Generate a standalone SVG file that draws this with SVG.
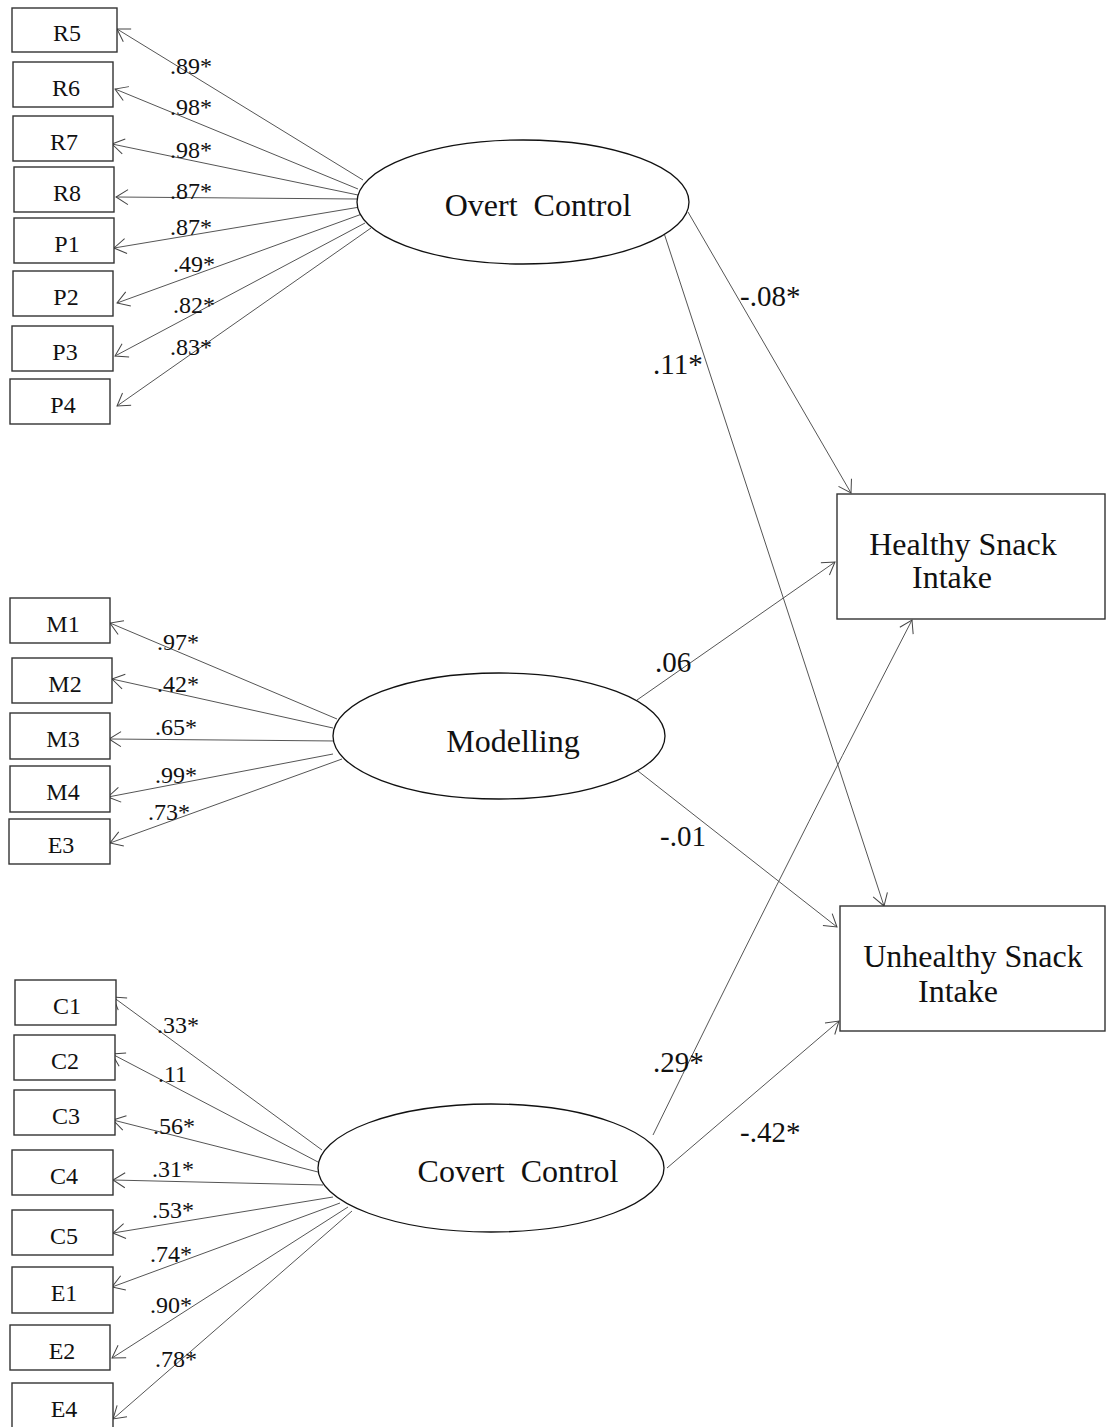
<svg xmlns="http://www.w3.org/2000/svg" width="1107" height="1427" viewBox="0 0 1107 1427">
<defs>
<marker id="arr" markerUnits="userSpaceOnUse" markerWidth="30" markerHeight="30" viewBox="-15 -15 30 30" refX="0" refY="0" orient="auto" overflow="visible">
<path d="M-12,-7.5 L0,0 L-12,7.5" fill="none" stroke="#444" stroke-width="1"/>
</marker>
<style>
.box{fill:#fff;stroke:#333;stroke-width:1.4}
.ell{fill:#fff;stroke:#111;stroke-width:1.3}
.ln{fill:none;stroke:#555;stroke-width:1;marker-end:url(#arr)}
.t{font-family:"Liberation Serif","Times New Roman",serif;fill:#111}
.s{font-size:24px;text-anchor:middle}
.w{font-size:24px}
.big{font-size:32px;text-anchor:middle}
.p{font-size:29px}
</style>
</defs>
<rect width="1107" height="1427" fill="#fff"/>

<g id="connectors">
<line class="ln" x1="363" y1="180" x2="117" y2="29"/>
<line class="ln" x1="358" y1="189" x2="115" y2="89"/>
<line class="ln" x1="358" y1="195" x2="112" y2="144"/>
<line class="ln" x1="358" y1="199" x2="116" y2="197"/>
<line class="ln" x1="360" y1="207" x2="114" y2="248"/>
<line class="ln" x1="362" y1="214" x2="117" y2="303"/>
<line class="ln" x1="365" y1="223" x2="115" y2="356"/>
<line class="ln" x1="371" y1="228" x2="117" y2="406"/>
<line class="ln" x1="337" y1="719" x2="110" y2="623"/>
<line class="ln" x1="333" y1="728" x2="112" y2="679"/>
<line class="ln" x1="337" y1="741" x2="109" y2="739"/>
<line class="ln" x1="333" y1="754" x2="108" y2="797"/>
<line class="ln" x1="342" y1="759" x2="110" y2="843"/>
<line class="ln" x1="322" y1="1150" x2="113" y2="997"/>
<line class="ln" x1="318" y1="1162" x2="112" y2="1054"/>
<line class="ln" x1="318" y1="1172" x2="113" y2="1120"/>
<line class="ln" x1="323" y1="1185" x2="113" y2="1180"/>
<line class="ln" x1="333" y1="1197" x2="113" y2="1233"/>
<line class="ln" x1="340" y1="1203" x2="112" y2="1287"/>
<line class="ln" x1="348" y1="1207" x2="112" y2="1358"/>
<line class="ln" x1="352" y1="1211" x2="113" y2="1419"/>
<line class="ln" x1="688" y1="212" x2="851" y2="493"/>
<line class="ln" x1="663" y1="230" x2="884" y2="906"/>
<line class="ln" x1="637" y1="700" x2="835" y2="562"/>
<line class="ln" x1="638" y1="771" x2="837" y2="927"/>
<path class="ln" d="M653,1135 Q770,895 912,620"/>
<line class="ln" x1="667" y1="1168" x2="839" y2="1021"/>
</g>

<g id="loadings" class="t w">
<text x="170" y="74">.89*</text>
<text x="170" y="115">.98*</text>
<text x="170" y="158">.98*</text>
<text x="170" y="199">.87*</text>
<text x="170" y="235">.87*</text>
<text x="173" y="272">.49*</text>
<text x="173" y="313">.82*</text>
<text x="170" y="355">.83*</text>
<text x="157" y="650">.97*</text>
<text x="157" y="692">.42*</text>
<text x="155" y="735">.65*</text>
<text x="155" y="783">.99*</text>
<text x="148" y="820">.73*</text>
<text x="157" y="1033">.33*</text>
<text x="158" y="1082">.11</text>
<text x="153" y="1134">.56*</text>
<text x="152" y="1177">.31*</text>
<text x="152" y="1218">.53*</text>
<text x="150" y="1262">.74*</text>
<text x="150" y="1313">.90*</text>
<text x="155" y="1367">.78*</text>
</g>

<g id="paths-labels" class="t p">
<text x="740" y="306">-.08*</text>
<text x="653" y="374">.11*</text>
<text x="655" y="672">.06</text>
<text x="660" y="846">-.01</text>
<text x="653" y="1072">.29*</text>
<text x="740" y="1142">-.42*</text>
</g>

<g id="R5"><rect class="box" x="12" y="8" width="105" height="44"/><text class="t s" x="67" y="41">R5</text></g>
<g id="R6"><rect class="box" x="13" y="62" width="100" height="45"/><text class="t s" x="66" y="96">R6</text></g>
<g id="R7"><rect class="box" x="13" y="116" width="100" height="45"/><text class="t s" x="64" y="150">R7</text></g>
<g id="R8"><rect class="box" x="14" y="167" width="100" height="45"/><text class="t s" x="67" y="201">R8</text></g>
<g id="P1"><rect class="box" x="14" y="218" width="100" height="45"/><text class="t s" x="67" y="252">P1</text></g>
<g id="P2"><rect class="box" x="13" y="271" width="100" height="45"/><text class="t s" x="66" y="305">P2</text></g>
<g id="P3"><rect class="box" x="12" y="326" width="101" height="45"/><text class="t s" x="65" y="360">P3</text></g>
<g id="P4"><rect class="box" x="10" y="379" width="100" height="45"/><text class="t s" x="63" y="413">P4</text></g>

<g id="M1"><rect class="box" x="10" y="598" width="100" height="45"/><text class="t s" x="63" y="632">M1</text></g>
<g id="M2"><rect class="box" x="12" y="658" width="100" height="45"/><text class="t s" x="65" y="692">M2</text></g>
<g id="M3"><rect class="box" x="10" y="713" width="100" height="46"/><text class="t s" x="63" y="747">M3</text></g>
<g id="M4"><rect class="box" x="10" y="766" width="100" height="46"/><text class="t s" x="63" y="800">M4</text></g>
<g id="E3"><rect class="box" x="9" y="819" width="101" height="45"/><text class="t s" x="61" y="853">E3</text></g>

<g id="C1"><rect class="box" x="15" y="980" width="101" height="45"/><text class="t s" x="67" y="1014">C1</text></g>
<g id="C2"><rect class="box" x="14" y="1035" width="101" height="45"/><text class="t s" x="65" y="1069">C2</text></g>
<g id="C3"><rect class="box" x="14" y="1090" width="101" height="45"/><text class="t s" x="66" y="1124">C3</text></g>
<g id="C4"><rect class="box" x="12" y="1150" width="101" height="45"/><text class="t s" x="64" y="1184">C4</text></g>
<g id="C5"><rect class="box" x="12" y="1210" width="101" height="45"/><text class="t s" x="64" y="1244">C5</text></g>
<g id="E1"><rect class="box" x="12" y="1267" width="101" height="46"/><text class="t s" x="64" y="1301">E1</text></g>
<g id="E2"><rect class="box" x="10" y="1325" width="100" height="45"/><text class="t s" x="62" y="1359">E2</text></g>
<g id="E4"><rect class="box" x="12" y="1383" width="101" height="46"/><text class="t s" x="64" y="1417">E4</text></g>

<g id="OvertControl"><ellipse class="ell" cx="523" cy="202" rx="166" ry="62"/><text class="t big" x="538" y="216" xml:space="preserve">Overt  Control</text></g>
<g id="Modelling"><ellipse class="ell" cx="499" cy="736" rx="166" ry="63"/><text class="t big" x="513" y="752">Modelling</text></g>
<g id="CovertControl"><ellipse class="ell" cx="491" cy="1168" rx="173" ry="64"/><text class="t big" x="518" y="1182" xml:space="preserve">Covert  Control</text></g>

<g id="HealthySnack"><rect class="box" x="837" y="494" width="268" height="125"/><text class="t big" x="963" y="555">Healthy Snack</text><text class="t big" x="952" y="588">Intake</text></g>
<g id="UnhealthySnack"><rect class="box" x="840" y="906" width="265" height="125"/><text class="t big" x="973" y="967">Unhealthy Snack</text><text class="t big" x="958" y="1002">Intake</text></g>
</svg>
